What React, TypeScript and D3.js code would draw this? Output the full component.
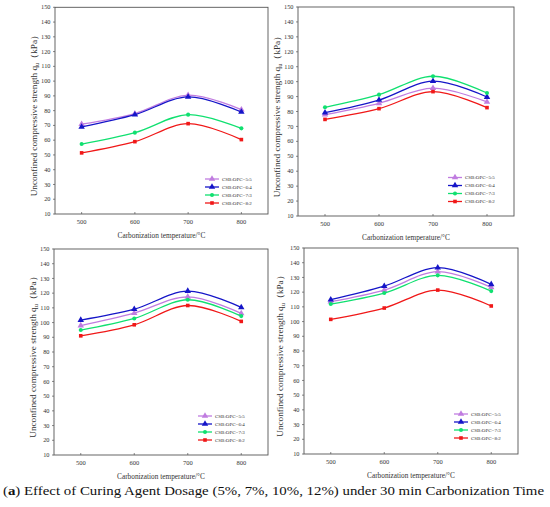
import * as d3 from "d3";

const temps = [500, 600, 700, 800];
const seriesNames = ["CSB:OPC=5:5", "CSB:OPC=6:4", "CSB:OPC=7:3", "CSB:OPC=8:2"];
const seriesColors = ["#c07ce0", "#1515c8", "#10e070", "#f01818"];
const seriesShapes = ["triangle", "triangle", "circle", "square"];
const yTicks = [10, 20, 30, 40, 50, 60, 70, 80, 90, 100, 110, 120, 130, 140, 150];

// values (kPa), one row per series
const panelTL = [
  [70.8, 78.0, 90.5, 80.7],
  [69.0, 77.3, 89.3, 79.1],
  [57.4, 65.1, 77.3, 68.0],
  [51.4, 59.0, 71.2, 60.4],
];
const panelTR = [
  [77.9, 85.5, 95.6, 86.4],
  [79.2, 87.7, 100.3, 89.7],
  [82.8, 91.3, 103.6, 92.4],
  [74.7, 81.9, 93.3, 82.6],
];
const panelBL = [
  [98.0, 106.4, 117.5, 106.2],
  [101.7, 109.1, 121.4, 110.3],
  [94.9, 102.8, 115.5, 104.4],
  [91.0, 98.5, 111.6, 100.8],
];
const panelBR = [
  [113.5, 121.4, 133.9, 123.2],
  [114.9, 124.1, 136.6, 125.3],
  [111.9, 119.4, 131.4, 120.7],
  [101.5, 109.2, 121.4, 110.6],
];

const serif = "'Liberation Serif', 'Times New Roman', serif";
const axisColor = "#555";

interface PanelProps {
  data: number[][];
  x0: number;
  x1: number;
  y0: number;
  y1: number;
  yLabelX: number;
  legendX: number;
  legendY: number;
}

function Marker({ shape, x, y, color }: { shape: string; x: number; y: number; color: string }) {
  const sym = shape === "triangle" ? d3.symbolTriangle : shape === "square" ? d3.symbolSquare : d3.symbolCircle;
  const size = shape === "triangle" ? 18 : 13;
  const path = d3.symbol().type(sym).size(size)() || "";
  return <path d={path} transform={`translate(${x},${y})`} fill={color} />;
}

function Panel({ data, x0, x1, y0, y1, yLabelX, legendX, legendY }: PanelProps) {
  const x = d3.scaleLinear().domain([450, 850]).range([x0, x1]);
  const y = d3.scaleLinear().domain([10, 150]).range([y1, y0]);
  const line = d3
    .line<number>()
    .x((_, i) => x(temps[i]))
    .y((d) => y(d))
    .curve(d3.curveCatmullRom.alpha(0.5));

  return (
    <g>
      <rect x={x0} y={y0} width={x1 - x0} height={y1 - y0} fill="none" stroke={axisColor} strokeWidth={0.9} />
      {yTicks.map((t) => (
        <g key={t}>
          <line x1={x0 - 2} x2={x0} y1={y(t)} y2={y(t)} stroke={axisColor} strokeWidth={0.7} />
          <text x={x0 - 4.5} y={y(t)} dy="0.33em" textAnchor="end" fontSize={6.3} fontFamily={serif} fill="#333">
            {t}
          </text>
        </g>
      ))}
      {temps.map((t) => (
        <g key={t}>
          <line x1={x(t)} x2={x(t)} y1={y1} y2={y1 - 2} stroke={axisColor} strokeWidth={0.7} />
          <text x={x(t)} y={y1 + 10} textAnchor="middle" fontSize={6.5} fontFamily={serif} fill="#333">
            {t}
          </text>
        </g>
      ))}
      <text
        x={(x0 + x1) / 2}
        y={y1 + 23.5}
        textAnchor="middle"
        fontSize={7.3}
        fontFamily={serif}
        fill="#333"
      >
        Carbonization temperature/°C
      </text>
      <text
        transform={`translate(${yLabelX},${(y0 + y1) / 2 + 3}) rotate(-90)`}
        textAnchor="middle"
        dy="0.35em"
        fontSize={9.2}
        fontFamily={serif}
        fill="#333"
      >
        Unconfined compressive strength q
        <tspan fontSize={6.4} dy="2">u</tspan>
        <tspan dy="-2">（kPa）</tspan>
      </text>
      {data.map((vals, s) => (
        <g key={s}>
          <path d={line(vals) || ""} fill="none" stroke={seriesColors[s]} strokeWidth={1.3} />
          {vals.map((v, i) => (
            <Marker key={i} shape={seriesShapes[s]} x={x(temps[i])} y={y(v)} color={seriesColors[s]} />
          ))}
        </g>
      ))}
      {seriesNames.map((name, s) => {
        const ly = legendY + s * 8;
        return (
          <g key={name}>
            <line x1={legendX} x2={legendX + 14} y1={ly} y2={ly} stroke={seriesColors[s]} strokeWidth={1.3} />
            <Marker shape={seriesShapes[s]} x={legendX + 7} y={ly} color={seriesColors[s]} />
            <text x={legendX + 17} y={ly} dy="0.33em" fontSize={5} fontFamily={serif} fill="#333">
              {name}
            </text>
          </g>
        );
      })}
    </g>
  );
}

export default function App() {
  return (
    <svg
      width={550}
      height={507}
      style={{ position: "absolute", left: 0, top: 0, background: "#fff" }}
    >
      <rect width={550} height={507} fill="#fff" />
      <Panel data={panelTL} x0={55} x1={268} y0={7.3} y1={214} yLabelX={34} legendX={205} legendY={179} />
      <Panel data={panelTR} x0={298} x1={514} y0={7} y1={216} yLabelX={277} legendX={448} legendY={177.5} />
      <Panel data={panelBL} x0={54} x1={268} y0={249} y1={455} yLabelX={33} legendX={198} legendY={416} />
      <Panel data={panelBR} x0={304} x1={518} y0={248} y1={454} yLabelX={280} legendX={454} legendY={414} />
      <text
        x={3}
        y={495}
        fontSize={13.5}
        fontFamily={serif}
        fill="#111"
        textLength={541}
        lengthAdjust="spacingAndGlyphs"
      >
        (<tspan fontWeight="bold">a</tspan>) Effect of Curing Agent Dosage (5%, 7%, 10%, 12%) under 30 min Carbonization Time
      </text>
    </svg>
  );
}
